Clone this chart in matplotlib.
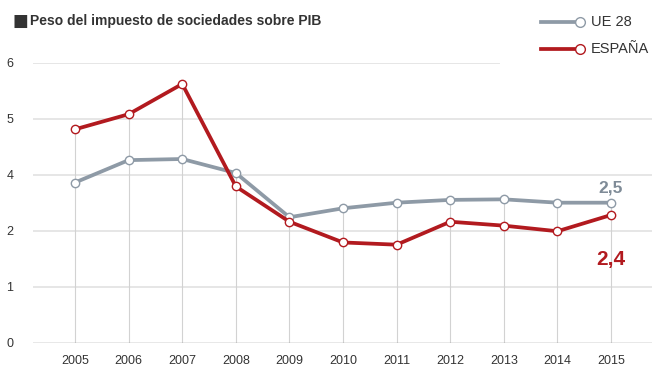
import numpy as np
import matplotlib.pyplot as plt
from matplotlib.lines import Line2D

years = [2005, 2006, 2007, 2008, 2009, 2010, 2011, 2012, 2013, 2014, 2015]
ue28 = [2.86, 3.26, 3.28, 3.03, 2.24, 2.40, 2.50, 2.55, 2.56, 2.50, 2.50]
espana = [3.81, 4.08, 4.62, 2.79, 2.16, 1.79, 1.75, 2.16, 2.09, 1.99, 2.28]
ytick_pos = [0, 1, 2, 3, 4, 5]
ytick_lbl = ["0", "1", "2", "4", "5", "6"]

GRAY = "#8e9aa6"
RED = "#b21a1f"
TXT = "#333333"
FONT = ["Liberation Sans Narrow", "Liberation Sans", "DejaVu Sans"]

plt.rcParams['font.family'] = FONT


def main():
    fig = plt.figure(figsize=(6.64, 3.82), dpi=100)
    ax = fig.add_axes([0.0497, 0.1029, 0.9323, 0.733])
    ax.set_xlim(2004.216, 2015.765)
    ax.set_ylim(0, 5)

    # horizontal grid
    for y in ytick_pos[1:]:
        xmax = 0.753 if y == 5 else 1.0
        ax.axhline(y, 0, xmax, color="#e6e6e6", lw=1.4, zorder=0)
    ax.axhline(0, color="#8c8c8c", lw=1.0, zorder=1)

    # vertical drop lines from highest point
    top = np.maximum(ue28, espana)
    ax.vlines(years, 0, top, colors="#d2d2d2", lw=0.8, zorder=0)

    ax.plot(years, ue28, color=GRAY, lw=2.7, marker="o", ms=6,
            mfc="white", mec=GRAY, mew=1.0, zorder=3)
    ax.plot(years, espana, color=RED, lw=2.7, marker="o", ms=6,
            mfc="white", mec=RED, mew=1.0, zorder=4)

    ax.text(years[-1], ue28[-1] + 0.12, "2,5", color="#7f8b97",
            fontsize=12.5, fontweight="bold", ha="center", va="bottom")
    ax.text(years[-1], espana[-1] - 0.80, "2,4", color=RED,
            fontsize=15, fontweight="bold", ha="center", va="center")

    ax.set_xticks(years)
    ax.set_xticklabels([str(y) for y in years])
    ax.set_yticks(ytick_pos)
    ax.set_yticklabels(ytick_lbl)
    ax.tick_params(axis="both", length=0, labelsize=9, colors=TXT)
    ax.tick_params(axis="x", pad=9)
    ax.tick_params(axis="y", pad=14)
    for s in ax.spines.values():
        s.set_visible(False)

    fig.text(0.019, 0.944, "\u25a0", fontsize=12, color=TXT,
             va="center", ha="left", family=["DejaVu Sans"])
    fig.text(0.045, 0.944, "Peso del impuesto de sociedades sobre PIB",
             fontsize=10, fontweight="bold", color=TXT, va="center")

    # legend
    for i, (lbl, col) in enumerate([("UE 28", GRAY), ("ESPAÑA", RED)]):
        yf = 1 - (22 + 27 * i) / 382
        fig.add_artist(Line2D([541 / 664, 578 / 664], [yf, yf], color=col,
                              lw=2.7, transform=fig.transFigure))
        fig.add_artist(Line2D([580 / 664], [yf], marker="o", ms=7,
                              mfc="white", mec=col, mew=1.0,
                              transform=fig.transFigure))
        fig.text(591 / 664, yf, lbl, fontsize=10.5, color=TXT, va="center")

    fig.savefig("out.png", dpi=100)


if __name__ == "__main__":
    main()
